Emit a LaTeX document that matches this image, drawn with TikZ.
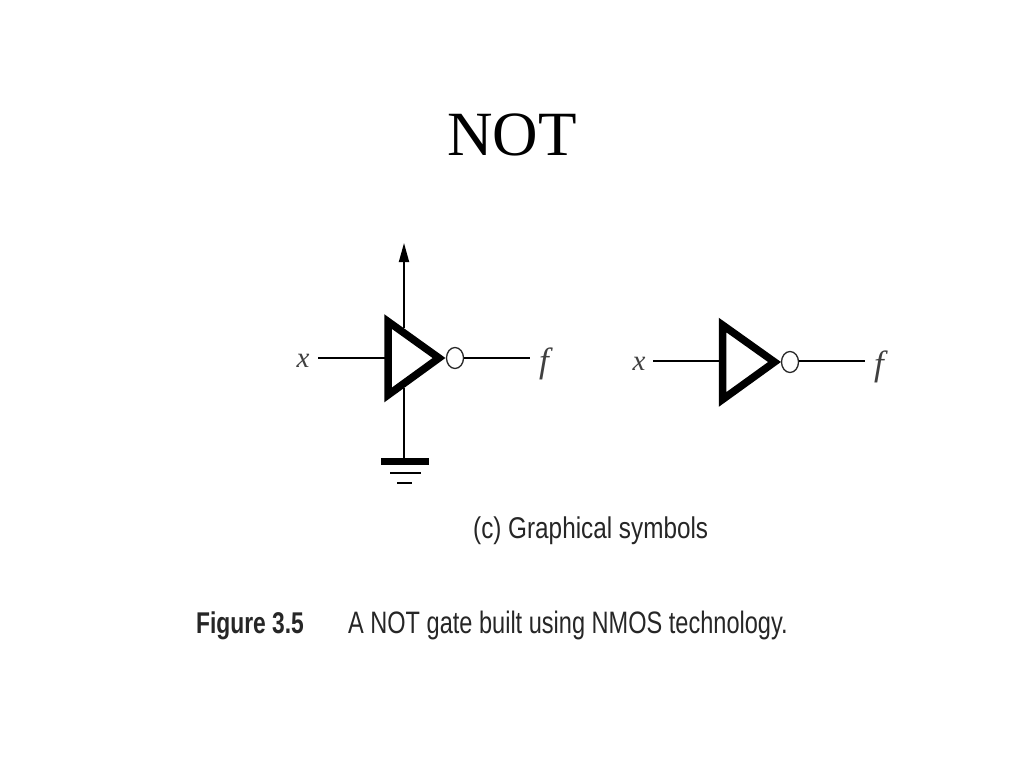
\documentclass[tikz,border=0pt]{standalone}
\usepackage{fontspec}
\setmainfont{Liberation Serif}
\newfontfamily\capfont{Liberation Sans}
\usetikzlibrary{shapes.geometric,arrows.meta}
\tikzset{
  x=1pt,y=-1pt,
  wire/.style={line width=1.8pt,black},
  tri/.style={line width=7.5pt,black,miter limit=10,line join=miter},
  bubble/.style={draw,ellipse,line width=1.3pt,draw=black!85,inner sep=0pt,minimum width=17pt,minimum height=21pt},
  sigx/.style={font=\fontsize{29}{29}\selectfont\itshape,inner sep=0pt,text=black!75},
  sigf/.style={font=\fontsize{35}{35}\selectfont\itshape,inner sep=0pt,text=black!75},
  title/.style={font=\fontsize{63}{63}\selectfont,inner sep=0pt,anchor=base},
  capt/.style={font=\capfont\fontsize{30}{30}\selectfont,inner sep=0pt,anchor=base west,text=black!85},
  rail/.style={line width=2pt,black}
}
\begin{document}
\begin{tikzpicture}
\useasboundingbox (0,0) rectangle (1024,768);
\fill[white] (0,0) rectangle (1024,768);
\node[title] (ttl) at (512,155.5) {NOT};
% left gate
\coordinate (a1) at (388,321.5);
\coordinate (a2) at (388,395);
\coordinate (a3) at (439,358);
\coordinate (top) at (404,243);
\coordinate (vtop) at (404,328);
\coordinate (vbot) at (404,388);
\coordinate (gnd) at (404,460);
\node[bubble] (b1) at (455,358) {};
\node[sigx] (x1) at (303,361) {x};
\node[sigf] (f1) at (544,364) {f};
\coordinate (i1) at (318,358);
\coordinate (in1) at (385,358);
\coordinate (o1) at (530,358);
\draw[wire] (i1) -- (in1);
\draw[wire] (b1.east) -- (o1);
\draw[wire,-{Triangle[length=19pt,width=10pt]}] (vtop) -- (top);
\draw[wire] (vbot) -- (gnd);
\draw[tri] (a1) -- (a3) -- (a2) -- cycle;
\fill[black] (381,458) rectangle (429,465);
\draw[rail] (390,473) -- (421,473);
\draw[rail] (397,483) -- (412,483);
% right gate
\coordinate (c1) at (722.5,325);
\coordinate (c2) at (722.5,399.5);
\coordinate (c3) at (774.5,362);
\node[bubble] (b2) at (790,362) {};
\node[sigx] (x2) at (639,364) {x};
\node[sigf] (f2) at (879,367) {f};
\coordinate (i2) at (653,361);
\coordinate (in2) at (720,361);
\coordinate (o2) at (865,361);
\draw[wire] (i2) -- (in2);
\draw[wire] (b2.east |- o2) -- (o2);
\draw[tri] (c1) -- (c3) -- (c2) -- cycle;
% captions
\node[capt,xscale=0.81] (cc) at (473,538) {(c) Graphical symbols};
\node[capt,xscale=0.76,font=\capfont\bfseries\fontsize{30}{30}\selectfont] (fig) at (196,633) {Figure 3.5};
\node[capt,xscale=0.76,font=\capfont\fontsize{31}{31}\selectfont] (cap) at (348,633) {A NOT gate built using NMOS technology.};
\end{tikzpicture}
\end{document}
